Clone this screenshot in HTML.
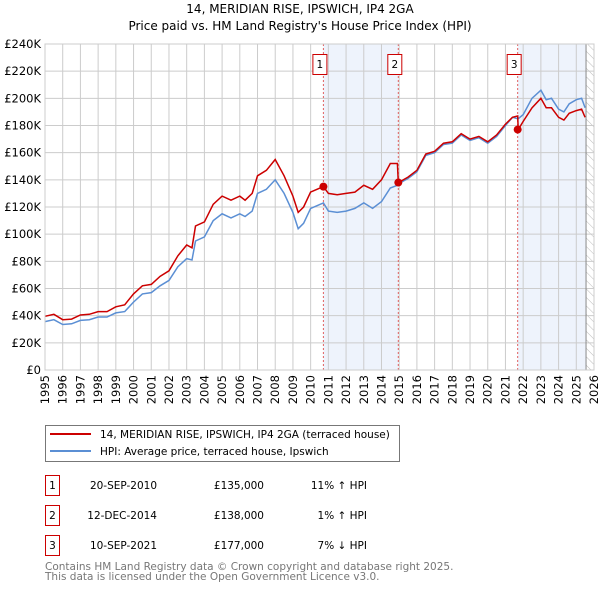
<!DOCTYPE html>
<html><head><meta charset="utf-8"><style>
body{margin:0;background:#fff;width:600px;height:590px;overflow:hidden}
svg{font-family:"DejaVu Sans","Liberation Sans",sans-serif}
</style></head><body>
<svg id="c" width="600" height="590" xmlns="http://www.w3.org/2000/svg">
<defs><pattern id="hatch" width="6" height="6" patternUnits="userSpaceOnUse" patternTransform="rotate(-45)"><line x1="0" y1="0" x2="0" y2="6" stroke="#bbb" stroke-width="1"/></pattern></defs>
<text x="300" y="13" text-anchor="middle" font-size="12">14, MERIDIAN RISE, IPSWICH, IP4 2GA</text>
<text x="300" y="30" text-anchor="middle" font-size="12">Price paid vs. HM Land Registry's House Price Index (HPI)</text>
<g id="plot"></g>
<g>
<rect x="45.5" y="425.5" width="354" height="36" fill="#fff" stroke="#777"/>
<line x1="50" y1="434" x2="91" y2="434" stroke="#cc0000" stroke-width="2"/>
<text x="100" y="438" font-size="10.5">14, MERIDIAN RISE, IPSWICH, IP4 2GA (terraced house)</text>
<line x1="50" y1="451" x2="91" y2="451" stroke="#5b8fd4" stroke-width="2"/>
<text x="100" y="455" font-size="10.5">HPI: Average price, terraced house, Ipswich</text>
</g>
<g font-size="10.5">
<rect x="45.5" y="475.5" width="14" height="20" fill="none" stroke="#cc0000"/><text x="52.5" y="489" text-anchor="middle">1</text>
<text x="157" y="489" text-anchor="end">20-SEP-2010</text><text x="264" y="489" text-anchor="end">£135,000</text><text x="367" y="489" text-anchor="end">11% ↑ HPI</text>
<rect x="45.5" y="505.5" width="14" height="20" fill="none" stroke="#cc0000"/><text x="52.5" y="519" text-anchor="middle">2</text>
<text x="157" y="519" text-anchor="end">12-DEC-2014</text><text x="264" y="519" text-anchor="end">£138,000</text><text x="367" y="519" text-anchor="end">1% ↑ HPI</text>
<rect x="45.5" y="535.5" width="14" height="20" fill="none" stroke="#cc0000"/><text x="52.5" y="549" text-anchor="middle">3</text>
<text x="157" y="549" text-anchor="end">10-SEP-2021</text><text x="264" y="549" text-anchor="end">£177,000</text><text x="367" y="549" text-anchor="end">7% ↓ HPI</text>
</g>
<text x="45" y="570" font-size="10.5" fill="#777">Contains HM Land Registry data © Crown copyright and database right 2025.</text>
<text x="45" y="580" font-size="10.5" fill="#777">This data is licensed under the Open Government Licence v3.0.</text>
</svg>
<script>
const dates=[1995,1995.5,1996,1996.5,1997,1997.5,1998,1998.5,1999,1999.5,
2000,2000.5,2001,2001.5,2002,2002.5,2003,2003.3,2003.5,2004,
2004.5,2005,2005.5,2006,2006.3,2006.7,2007,2007.5,2008,2008.5,
2009,2009.3,2009.6,2010,2010.72,2011,2011.5,2012,2012.5,2013,
2013.5,2014,2014.5,2014.9,2014.95,2015.5,2016,2016.5,2017,2017.5,
2018,2018.5,2019,2019.5,2020,2020.5,2021,2021.4,2021.69,2021.72,
2022,2022.5,2023,2023.3,2023.6,2024,2024.3,2024.6,2025,2025.3,2025.5];
const hpi=[35.6,37,33.5,34,36.5,37,39,39,42,43,
50,56,57,62,66,76,82,81,95,98,
110,115,112,115,113,117,130,133,140,130,
116,104,108,119,123,117,116,117,119,123,
119,124,134,136,137,141,146,158,160,166,
167,173,169,171,167,172,180,186,185,185,
188,200,206,199,200,192,190,196,199,200,193];
const price=[39.5,41,37,37.5,40.5,41,43,43,46.5,48,
56,62,63,69,73,84,92,90,106,109,
122,128,125,128,125,130,143,147,155,143,
128,116,120,131,135,130,129,130,131,136,
133,140,152,152,138,142,147,159,161,167,
168,174,170,172,168,173,181,186,187,177,
183,193,200,193,193,186,184,189,191,192,186];
const saleDates=[2010.72,2014.95,2021.69];
const salePrices=[135,138,177];
const saleLabels=["1","2","3"];
const yTicks=[0,20,40,60,80,100,120,140,160,180,200,220,240];
const xTicks=[1995,1996,1997,1998,1999,2000,2001,2002,2003,2004,2005,2006,2007,2008,2009,2010,2011,2012,2013,2014,2015,2016,2017,2018,2019,2020,2021,2022,2023,2024,2025,2026];
const X0=45,X1=594,Y0=370,Y1=44,dataEnd=2025.55;
const xs=d=>X0+(d-1995)/(2026-1995)*(X1-X0);
const ys=v=>Y0-v/240*(Y0-Y1);
const ns="http://www.w3.org/2000/svg",g=document.getElementById('plot');
function mk(t,a,p){const e=document.createElementNS(ns,t);for(const k in a)e.setAttribute(k,a[k]);(p||g).appendChild(e);return e;}
let b1=mk('rect',{x:xs(saleDates[0]),y:Y1,width:xs(saleDates[1])-xs(saleDates[0]),height:Y0-Y1,fill:'#eef3fc'});


let b2=mk('rect',{x:xs(saleDates[2]),y:Y1,width:xs(dataEnd)-xs(saleDates[2]),height:Y0-Y1,fill:'#eef3fc'});


let ht=mk('rect',{x:xs(dataEnd),y:Y1,width:X1-xs(dataEnd),height:Y0-Y1,fill:'url(#hatch)'});


yTicks.forEach(v=>{
 mk('line',{x1:X0,x2:X1,y1:ys(v),y2:ys(v),stroke:'#ccc'});
 const t=mk('text',{x:X0-4,y:ys(v)+4,'text-anchor':'end','font-size':'11.5'});t.textContent='£'+(v?v+'K':'0');
 
 
});
xTicks.forEach(v=>{
 mk('line',{x1:xs(v),x2:xs(v),y1:Y1,y2:Y0,stroke:'#ccc'});
 const t=mk('text',{x:0,y:0,'text-anchor':'end','font-size':'11.5',transform:`translate(${xs(v)+4},${Y0+5}) rotate(-90)`});t.textContent=v;
 
 
});
mk('line',{x1:xs(dataEnd),x2:xs(dataEnd),y1:Y1,y2:Y0,stroke:'#888'});
saleDates.forEach((d,i)=>{
 mk('line',{x1:xs(d),x2:xs(d),y1:Y1,y2:Y0,stroke:'#e06060','stroke-dasharray':'2,2'});
 const r=mk('rect',{x:xs(d)-10.5,y:54.5,width:14,height:20,fill:'#fff',stroke:'#cc0000'});
 
 
 const t=mk('text',{x:xs(d)-3.5,y:68,'text-anchor':'middle','font-size':'10.5'});t.textContent=saleLabels[i];
});
const path=arr=>dates.map((d,i)=>(i?'L':'M')+xs(d).toFixed(1)+','+ys(arr[i]).toFixed(1)).join('');
const lh=mk('path',{d:path(hpi),fill:'none',stroke:'#5b8fd4','stroke-width':1.5});


const lp=mk('path',{d:path(price),fill:'none',stroke:'#cc0000','stroke-width':1.5});


saleDates.forEach((d,i)=>{
 const c=mk('circle',{cx:xs(d),cy:ys(salePrices[i]),r:4,fill:'#cc0000'});
 
 
});
mk('rect',{x:X0,y:Y1,width:X1-X0,height:Y0-Y1,fill:'none',stroke:'#ccc'});
</script>
</body></html>
